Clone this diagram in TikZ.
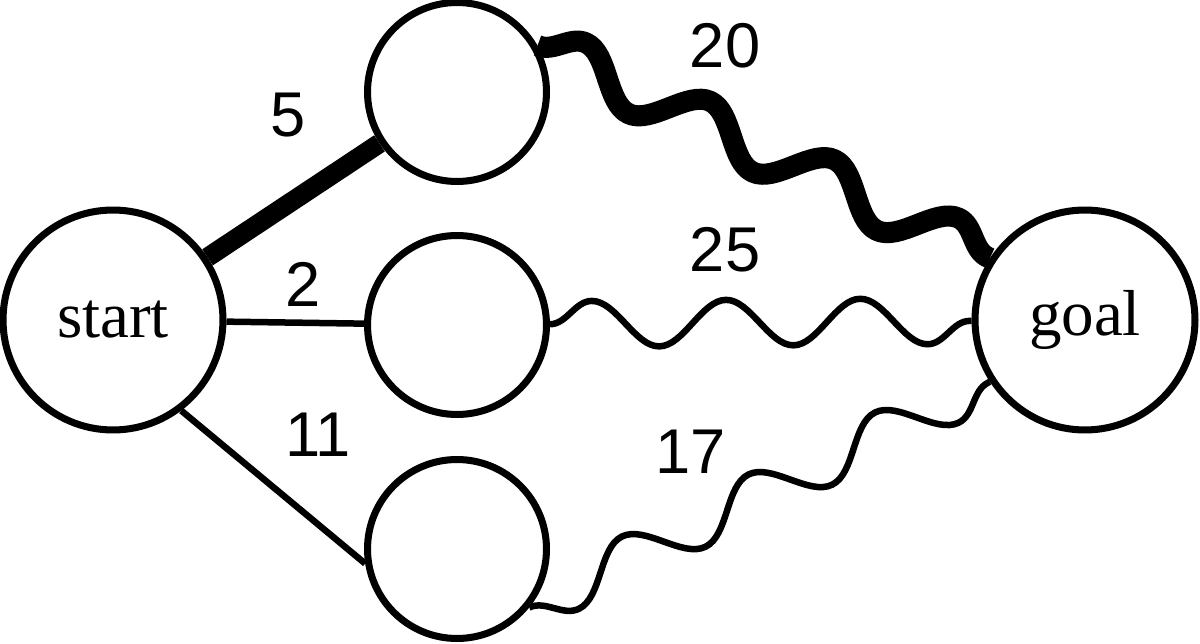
\documentclass[tikz,border=0pt]{standalone}
\usepackage{fontspec}
\setmainfont{Liberation Serif}
\newfontfamily\costfont{Liberation Sans}
\usetikzlibrary{decorations.pathmorphing}
\begin{document}
\begin{tikzpicture}[x=0.02cm,y=0.02cm,
    state/.style={circle,draw,line width=4pt,inner sep=0pt},
    endstate/.style={state,minimum size=4.4cm,font=\fontsize{37}{40}\selectfont},
    midstate/.style={state,minimum size=3.58cm},
    cost/.style={font=\costfont\fontsize{36}{40}\selectfont},
    lightedge/.style={line width=3.7pt},
    heavyedge/.style={line width=11pt},
    wave/.style={decorate,decoration={snake,amplitude=0.46cm,segment length=#1}}]
  \useasboundingbox (0,0) rectangle (1200,643);
  \node[endstate] (start) at (113,323) {start};
  \node[endstate] (goal) at (1085,323) {goal};
  \node[midstate] (up) at (457,551) {};
  \node[midstate] (mid) at (457,318) {};
  \node[midstate] (low) at (457,94) {};
  % first leg
  \draw[heavyedge] (start) -- (up);
  \draw[lightedge] (start) -- (mid);
  \draw[lightedge] (start.-53) -- (low.-171);
  % second leg
  \draw[heavyedge,line width=12pt,wave=2.745cm,line join=round] (up.30) -- (goal.147);
  \draw[lightedge,wave=2.685cm] (mid) -- (goal);
  \draw[lightedge,wave=2.82cm,decoration={mirror}] (low.-39) -- (goal.-147);
  % costs
  \node[cost] (c5) at (288,528) {5};
  \node[cost] (c2) at (303,359) {2};
  \node[cost] (c11) at (318,208) {11};
  \node[cost] (c20) at (725,597) {20};
  \node[cost] (c25) at (725,393) {25};
  \node[cost] (c17) at (691,191) {17};
\end{tikzpicture}
\end{document}
